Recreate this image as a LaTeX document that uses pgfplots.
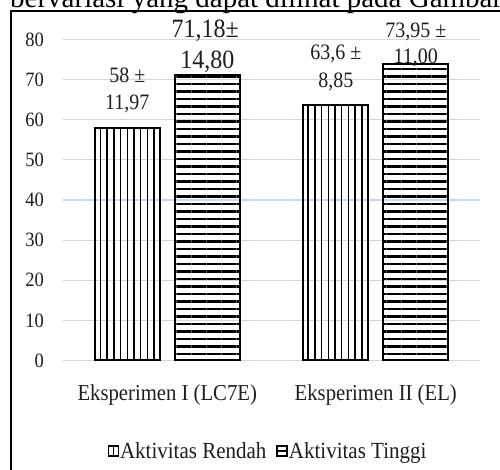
\documentclass[border=0pt]{standalone}
\usepackage{fontspec}
\setmainfont{Liberation Serif}
\usepackage{pgfplots}
\pgfplotsset{compat=1.18}
\usetikzlibrary{patterns.meta}
\definecolor{gridc}{RGB}{200,218,240}
\definecolor{txt}{RGB}{30,30,30}
\newcommand{\vs}[1]{\scalebox{1}[1.1]{#1}}
\begin{document}
\begin{tikzpicture}
\useasboundingbox (0pt,0pt) rectangle (500pt,470pt);
\clip (0pt,0pt) rectangle (500pt,470pt);
\node[anchor=base west, inner sep=0pt, font=\fontsize{29}{32}\selectfont] at (10pt,462.5pt) {bervariasi yang dapat dilihat pada Gambar};
\draw[line width=2pt] (10.7pt,-2pt) -- (10.7pt,459pt) -- (502pt,459pt);
\begin{axis}[
  at={(63pt,109.5pt)}, anchor=south west,
  scale only axis, width=417pt, height=321pt,
  xmin=-0.5, xmax=1.5, ymin=0, ymax=80,
  enlargelimits=false, clip=false,
  axis line style={draw=none},
  tick style={draw=none},
  ymajorgrids, grid style={gridc, line width=1.2pt},
  ytick={0,10,...,80},
  yticklabel={\vs{\pgfmathprintnumber{\tick}}},
  xtick={0,1},
  xticklabels={\vs{Eksperimen I (LC7E)}, \vs{Eksperimen II (EL)}},
  /pgf/number format/assume math mode=true,
  yticklabel style={font=\fontsize{18.5}{20}\selectfont, text=txt, anchor=east, inner sep=0pt, xshift=-19pt},
  xticklabel style={font=\fontsize{20.7}{23}\selectfont, text=txt, anchor=base, inner sep=0pt, yshift=-36pt},
  ybar=15pt, bar width=65pt,
  legend columns=2,
  legend style={at={(0.4904,-0.282)}, anchor=center, draw=none, fill=none,
    font=\fontsize{21}{24}\selectfont, text=txt,
    nodes={inner sep=1pt},
    /tikz/every even column/.append style={column sep=9pt}},
]
\addplot[draw=black, line width=2pt, pattern={Lines[angle=90,distance=6.7pt,line width=1.5pt]},
  legend image code/.code={\draw[line width=1.5pt, black, fill=white] (0pt,-5pt) rectangle (10pt,5pt); \draw[line width=1.2pt] (5pt,-5pt) -- (5pt,5pt);}]
  coordinates {(0,58) (1,63.6)};
\addplot[draw=black, line width=2pt, pattern={Lines[angle=0,distance=7.5pt,line width=2.7pt,yshift=3.5pt]},
  legend image code/.code={\draw[line width=1.5pt, black, fill=white] (0pt,-5pt) rectangle (10pt,5pt); \draw[line width=1.2pt] (0pt,0pt) -- (10pt,0pt);}]
  coordinates {(0,71.18) (1,73.95)};
\legend{\vs{Aktivitas Rendah}, \vs{Aktivitas Tinggi}}
\node[anchor=base, inner sep=0pt, font=\fontsize{20}{22}\selectfont, text=txt, xshift=-40pt] at (axis cs:0,69.16) {\vs{58 ±}};
\node[anchor=base, inner sep=0pt, font=\fontsize{20}{22}\selectfont, text=txt, xshift=-40pt] at (axis cs:0,62.43) {\vs{11,97}};
\node[anchor=base, inner sep=0pt, font=\fontsize{24}{26}\selectfont, text=txt, xshift=38pt] at (axis cs:0,80.45) {\vs{71,18±}};
\node[anchor=base, inner sep=0pt, font=\fontsize{24}{26}\selectfont, text=txt, xshift=40pt] at (axis cs:0,72.65) {\vs{14,80}};
\node[anchor=base, inner sep=0pt, font=\fontsize{20}{22}\selectfont, text=txt, xshift=-40pt] at (axis cs:1,74.89) {\vs{63,6 ±}};
\node[anchor=base, inner sep=0pt, font=\fontsize{20}{22}\selectfont, text=txt, xshift=-40pt] at (axis cs:1,68.16) {\vs{8,85}};
\node[anchor=base, inner sep=0pt, font=\fontsize{20}{22}\selectfont, text=txt, xshift=40pt] at (axis cs:1,80.62) {\vs{73,95 ±}};
\node[anchor=base, inner sep=0pt, font=\fontsize{20}{22}\selectfont, text=txt, xshift=40pt] at (axis cs:1,74.14) {\vs{11,00}};
\end{axis}
\end{tikzpicture}
\end{document}
